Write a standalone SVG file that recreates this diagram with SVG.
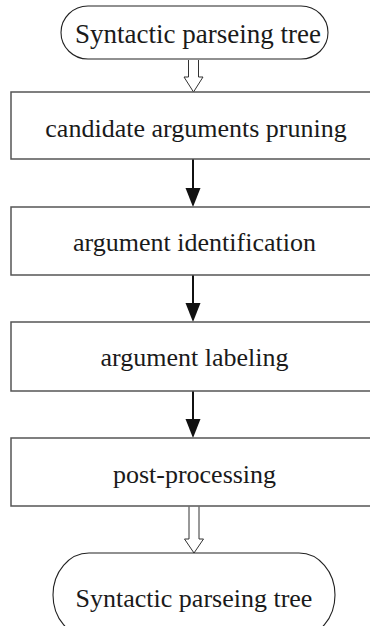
<svg xmlns="http://www.w3.org/2000/svg" width="370" height="626" viewBox="0 0 370 626">
<defs>
<style>
.box{fill:#fff;stroke:#555;stroke-width:1.5}
.term{fill:#fff;stroke:#222;stroke-width:1.1}
.lbl{font-family:"Liberation Serif","Times New Roman",serif;font-size:26px;fill:#1a1a1a;text-anchor:middle}
.arr{stroke:#111;stroke-width:2;fill:none}
.head{fill:#111}
.hollow{fill:#fff;stroke:#333;stroke-width:1}
</style>
</defs>
<rect width="370" height="626" fill="#fff"/>
<g id="connectors">
<path class="hollow" d="M188.5,60 V77 H184 L193.5,92 L203,77 H198.5 V60"/>
<line class="arr" x1="193" y1="159" x2="193" y2="190"/>
<path class="head" d="M185.5,188 L200.5,188 L193,207 Z"/>
<line class="arr" x1="193" y1="275" x2="193" y2="305"/>
<path class="head" d="M185.5,303 L200.5,303 L193,322 Z"/>
<line class="arr" x1="193" y1="391" x2="193" y2="421"/>
<path class="head" d="M185.5,419 L200.5,419 L193,438 Z"/>
<path class="hollow" d="M189,506.5 V539 H184.5 L194,553 L203.5,539 H199 V506.5"/>
</g>
<g id="start">
<rect class="term" x="61" y="6" width="267" height="53" rx="27" ry="26.5"/>
<text class="lbl" x="198" y="43" style="font-size:27px">Syntactic parseing tree</text>
</g>
<g id="pruning">
<rect class="box" x="11" y="92" width="370" height="67"/>
<text class="lbl" x="196" y="136.5">candidate arguments pruning</text>
</g>
<g id="identification">
<rect class="box" x="11" y="207" width="370" height="68"/>
<text class="lbl" x="194.5" y="250.5">argument identification</text>
</g>
<g id="labeling">
<rect class="box" x="11" y="322" width="370" height="69"/>
<text class="lbl" x="194.5" y="366">argument labeling</text>
</g>
<g id="postprocessing">
<rect class="box" x="11" y="438" width="370" height="68"/>
<text class="lbl" x="194.5" y="482.5">post-processing</text>
</g>
<g id="end">
<rect class="term" x="53" y="553" width="282" height="84" rx="36" ry="42"/>
<text class="lbl" x="194" y="607">Syntactic parseing tree</text>
</g>
</svg>
